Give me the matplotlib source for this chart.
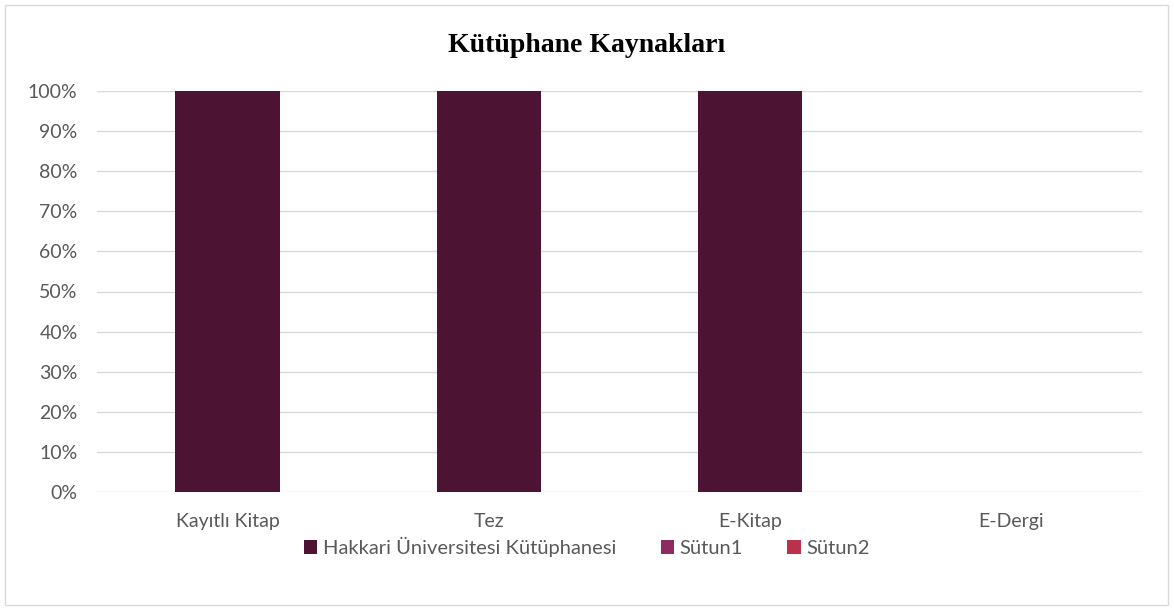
import matplotlib.pyplot as plt
import matplotlib.ticker as ticker
import numpy as np
from matplotlib.patches import Rectangle

categories = ["Kayıtlı Kitap", "Tez", "E-Kitap", "E-Dergi"]
series_names = ["Hakkari Üniversitesi Kütüphanesi", "Sütun1", "Sütun2"]
hakkari = [1.0, 1.0, 1.0, 0.0]
sutun1 = [0.0, 0.0, 0.0, 0.0]
sutun2 = [0.0, 0.0, 0.0, 0.0]
colors = ["#4C1432", "#8E2C62", "#BA3149"]

plt.rcParams["font.family"] = ["Lato", "DejaVu Sans"]

fig = plt.figure(figsize=(11.74, 6.09), dpi=100)
ax = fig.add_axes([97 / 1174, 1 - 492 / 609, (1142 - 97) / 1174, (492 - 91) / 609])

x = np.arange(len(categories))
bottom = np.zeros(len(categories))
for name, vals, c in zip(series_names, [hakkari, sutun1, sutun2], colors):
    ax.bar(x, vals, width=0.4, bottom=bottom, color=c, label=name, zorder=3)
    bottom += np.array(vals)

ax.set_xlim(-0.5, len(categories) - 0.5)
ax.set_ylim(0, 1.0)
ax.set_yticks(np.arange(0, 1.01, 0.1))
ax.yaxis.set_major_formatter(ticker.PercentFormatter(1.0, decimals=0))
ax.set_xticks(x)
ax.set_xticklabels(categories)
ax.tick_params(axis="both", length=0, labelsize=14, labelcolor="#595959")
ax.tick_params(axis="x", pad=15)
ax.tick_params(axis="y", pad=14)
ax.grid(axis="y", color="#D9D9D9", linewidth=1, zorder=0)
for s in ax.spines.values():
    s.set_visible(False)

fig.text(0.5, 1 - 45 / 609, "Kütüphane Kaynakları", ha="center", va="center",
         fontsize=20, fontweight="bold", family="Liberation Serif", color="black")

fig.legend(loc="center", bbox_to_anchor=(0.5, 1 - 547 / 609), ncol=3, frameon=False,
           fontsize=14.5, handlelength=0.65, handleheight=0.65, handletextpad=0.3,
           columnspacing=2.2, labelcolor="#595959")

fig.patches.append(Rectangle((5 / 1174, 4 / 609), 1163 / 1174, 600 / 609,
                             transform=fig.transFigure, fill=False,
                             edgecolor="#D9D9D9", linewidth=1))

fig.savefig("out.png", dpi=100)
